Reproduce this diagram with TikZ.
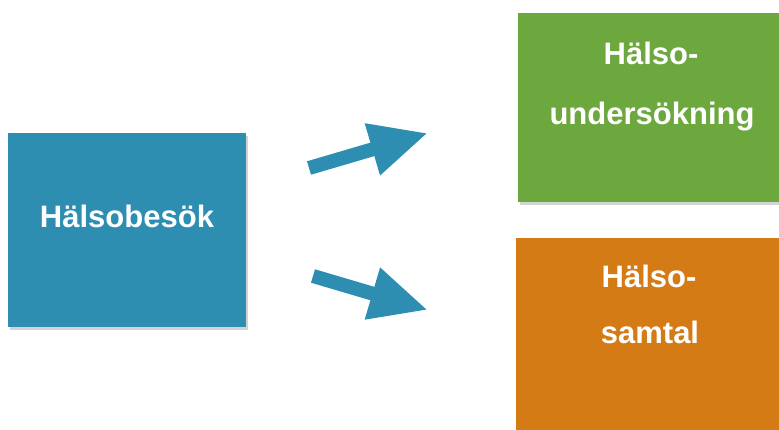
\documentclass[tikz,border=0pt]{standalone}
\usepackage{fontspec}
\setmainfont{Liberation Sans}
\usetikzlibrary{arrows.meta,shadows}

\definecolor{feltblue}{RGB}{45,142,178}
\definecolor{feltgreen}{RGB}{108,168,62}
\definecolor{feltorange}{RGB}{212,123,22}

\begin{document}
\begin{tikzpicture}[x=1pt,y=-1pt,
  box/.style={inner sep=0pt, outer sep=0pt,
    drop shadow={opacity=0.35, shadow xshift=2pt, shadow yshift=-3pt}},
  label text/.style={anchor=base, text=white,
    font=\bfseries\fontsize{31}{37}\selectfont},
  fat arrow/.style={draw=feltblue, line width=14pt,
    -{Triangle[length=58pt,width=50pt]}}]
\useasboundingbox (0,0) rectangle (779,430);
%----------boxes-------------------------------
\node[box, fill=feltblue, minimum width=238pt, minimum height=194pt] (besok) at (127,230) {};
\node[box, fill=feltgreen, minimum width=264pt, minimum height=189pt] (unders) at (650,107.5) {};
\node[box, fill=feltorange, minimum width=270pt, minimum height=204pt] (samtal) at (651,340) {};
%----------text--------------------------------
\node[label text] (besoktxt) at (127,228) {Hälsobesök};
\node[label text] (unders1) at (651,65) {Hälso-};
\node[label text] (unders2) at (652,125) {undersökning};
\node[label text] (samtal1) at (649,288) {Hälso-};
\node[label text] (samtal2) at (650,343) {samtal};
%----------arrows------------------------------
\coordinate (upfrom) at (309,168);
\coordinate (upto) at (428,133);
\coordinate (downfrom) at (313,276);
\coordinate (downto) at (428,310);
\draw[fat arrow] (upfrom) -- (upto);
\draw[fat arrow] (downfrom) -- (downto);
\end{tikzpicture}
\end{document}
